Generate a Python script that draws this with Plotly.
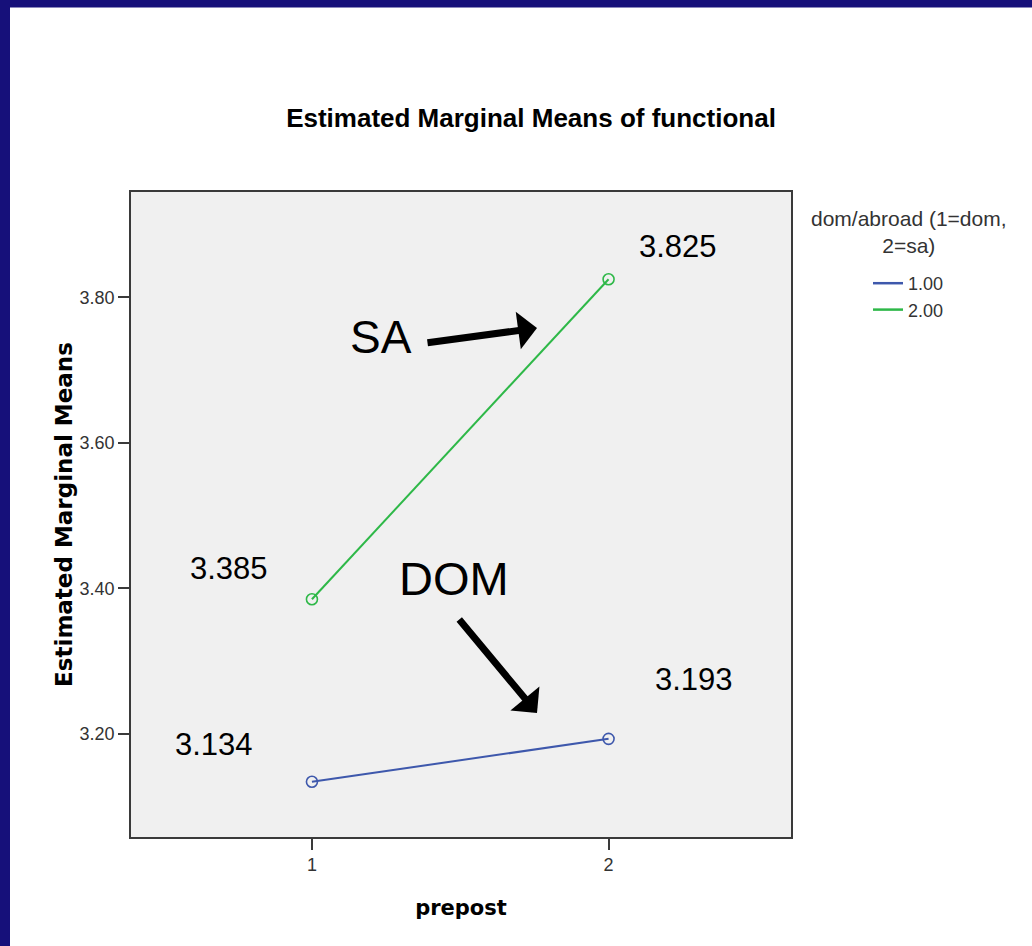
import plotly.graph_objects as go

# ---- data ----
prepost = [1, 2]
groups = ["1.00", "2.00"]
dom_means = [3.134, 3.193]
sa_means = [3.385, 3.825]
y_ticks = [3.20, 3.40, 3.60, 3.80]
x_ticks = [1, 2]

# ---- geometry (pixels) ----
W, H = 1032, 946
L, R, T, B = 131, 791, 192, 837


def px_x(px):
    return (px - L) / (R - L)


def px_y(py):
    return (B - py) / (B - T)


blue = "#3E58AC"
green = "#2EB848"
navy = "#16107a"

fig = go.Figure()
for name, vals, col in [(groups[0], dom_means, blue), (groups[1], sa_means, green)]:
    fig.add_trace(go.Scatter(
        x=prepost, y=vals, name=name, mode="lines+markers", showlegend=False,
        line=dict(color=col, width=2),
        marker=dict(symbol="circle-open", size=11, color=col, line=dict(width=1.6, color=col)),
    ))
# legend entries (line only, as in the reference)
for name, col in [(groups[0], blue), (groups[1], green)]:
    fig.add_trace(go.Scatter(x=[None], y=[None], name=name, mode="lines",
                             line=dict(color=col, width=2.5), showlegend=True))

annotations = []
# value labels, offsets in pixels relative to each point
label_offsets = {
    ("dom", 0): (-98, 37), ("dom", 1): (85, 59),
    ("sa", 0): (-83, 31), ("sa", 1): (69, 33),
}
for key, vals in [("dom", dom_means), ("sa", sa_means)]:
    for i, v in enumerate(vals):
        dx, dy = label_offsets[(key, i)]
        annotations.append(dict(
            x=prepost[i], y=v, xref="x", yref="y", text=f"{v:.3f}", showarrow=False,
            xanchor="center", yanchor="middle",
            xshift=dx, yshift=dy, font=dict(family="Arial", size=31, color="black"),
        ))

# group text labels
annotations.append(dict(x=px_x(381), y=px_y(337), xref="paper", yref="paper", text="SA",
                        xanchor="center", yanchor="middle",
                        showarrow=False, font=dict(family="Arial", size=46, color="black")))
annotations.append(dict(x=px_x(454), y=px_y(578), xref="paper", yref="paper", text="DOM",
                        xanchor="center", yanchor="middle",
                        showarrow=False, font=dict(family="Arial", size=47, color="black")))
# arrows
annotations.append(dict(x=px_x(537), y=px_y(328), xref="paper", yref="paper", text="",
                        showarrow=True, arrowhead=1, arrowwidth=7, arrowsize=0.9,
                        arrowcolor="black", ax=-111, ay=15, standoff=0))
annotations.append(dict(x=px_x(537), y=px_y(713), xref="paper", yref="paper", text="",
                        showarrow=True, arrowhead=1, arrowwidth=7, arrowsize=0.9,
                        arrowcolor="black", ax=-79, ay=-95, standoff=0))
# legend title
annotations.append(dict(x=px_x(909), y=px_y(232), xref="paper", yref="paper",
                        xanchor="center", yanchor="middle",
                        text="dom/abroad (1=dom,<br>2=sa)", showarrow=False, align="center",
                        font=dict(family="Arial", size=21, color="#333333")))

shapes = [
    dict(type="rect", xref="paper", yref="paper", x0=px_x(0), x1=px_x(10), y0=px_y(H), y1=px_y(0),
         fillcolor=navy, line=dict(width=0), layer="below"),
    dict(type="rect", xref="paper", yref="paper", x0=px_x(0), x1=px_x(W), y0=px_y(7.5), y1=px_y(0),
         fillcolor=navy, line=dict(width=0), layer="below"),
]

fig.update_layout(
    width=W, height=H,
    margin=dict(l=L, r=W - R, t=T, b=H - B, autoexpand=False),
    paper_bgcolor="white", plot_bgcolor="#f0f0f0",
    title=dict(text="Estimated Marginal Means of functional", xref="container", yref="container",
               x=531 / W, xanchor="center", y=1 - 118 / H, yanchor="middle",
               font=dict(family="Arial", size=26, color="black", weight="bold")),
    xaxis=dict(range=[0.39, 2.615], tickvals=x_ticks, ticktext=[str(v) for v in x_ticks],
               showgrid=False, zeroline=False, showline=True, mirror=True, linecolor="#3a3a3a",
               linewidth=1.6, ticks="outside", ticklen=11, tickwidth=1.6, tickcolor="#3a3a3a",
               tickfont=dict(family="Arial", size=18, color="#333333"),
               title=dict(text="prepost", standoff=26,
                          font=dict(family="DejaVu Sans", size=21, color="black", weight="bold"))),
    yaxis=dict(range=[3.058, 3.945], tickvals=y_ticks, ticktext=[f"{v:.2f}" for v in y_ticks],
               showgrid=False, zeroline=False, showline=True, mirror=True, linecolor="#3a3a3a",
               linewidth=1.6, ticks="outside", ticklen=11, tickwidth=1.6, tickcolor="#3a3a3a",
               tickfont=dict(family="Arial", size=18, color="#333333"),
               title=dict(text="Estimated Marginal Means", standoff=1,
                          font=dict(family="DejaVu Sans", size=23, color="black", weight="bold"))),
    legend=dict(x=px_x(868), y=px_y(265), xanchor="left", yanchor="top", bgcolor="rgba(0,0,0,0)",
                font=dict(family="Arial", size=18, color="#333333"), tracegroupgap=0,
                itemwidth=30),
    showlegend=True,
    annotations=annotations,
    shapes=shapes,
)

fig.write_html("out.html", config={"displayModeBar": False},
               post_script="document.body.style.margin='0';")
